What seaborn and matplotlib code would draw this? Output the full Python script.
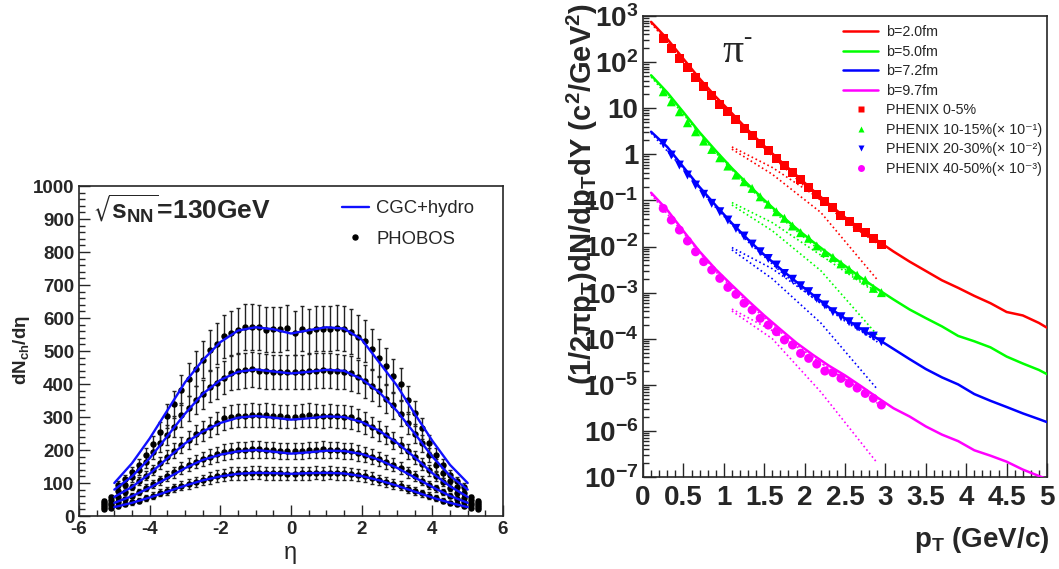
import matplotlib
matplotlib.use("Agg")
import numpy as np
import pandas as pd
import seaborn as sns
import matplotlib.pyplot as plt
from matplotlib.lines import Line2D
from matplotlib.ticker import MultipleLocator, FixedLocator, LogLocator, NullFormatter, FuncFormatter

# ---------------- left panel data: dNch/deta at 130 GeV ----------------
eta_data = [-5.3, -5.1, -4.9, -4.7, -4.5, -4.3, -4.1, -3.9, -3.7, -3.5, -3.3, -3.1, -2.9, -2.7,
            -2.5, -2.3, -2.1, -1.9, -1.7, -1.5, -1.3, -1.1, -0.9, -0.7, -0.5, -0.3, -0.1,
            0.1, 0.3, 0.5, 0.7, 0.9, 1.1, 1.3, 1.5, 1.7, 1.9, 2.1, 2.3, 2.5, 2.7, 2.9,
            3.1, 3.3, 3.5, 3.7, 3.9, 4.1, 4.3, 4.5, 4.7, 4.9, 5.1, 5.3]

phobos_c0 = [45, 58, 94, 112, 132, 155, 184, 217, 255, 302, 338, 381, 414, 446,
             474, 502, 522, 544, 556, 563, 573, 573, 572, 565, 566, 566, 570,
             555, 568, 560, 568, 567, 567, 570, 568, 559, 543, 531, 507, 480, 455, 424,
             400, 352, 311, 266, 220, 185, 155, 125, 105, 88, 58, 45]
phobos_c1 = [38, 48, 75, 95, 118, 140, 165, 195, 222, 245, 271, 306, 326, 351,
             369, 392, 404, 419, 434, 439, 442, 444, 440, 439, 437, 437, 437,
             437, 437, 439, 440, 442, 440, 439, 436, 432, 422, 408, 395, 378, 355, 335,
             310, 282, 250, 220, 185, 155, 130, 105, 88, 70, 48, 38]
phobos_c2 = [32, 40, 58, 72, 88, 105, 122, 140, 160, 180, 198, 216, 230, 248,
             258, 270, 282, 296, 301, 304, 304, 306, 305, 306, 304, 303, 301,
             301, 304, 306, 304, 303, 304, 303, 301, 299, 291, 282, 270, 258, 245, 228,
             215, 196, 178, 158, 138, 120, 103, 86, 70, 56, 40, 32]
phobos_c3 = [26, 32, 44, 52, 62, 73, 85, 97, 108, 120, 133, 146, 155, 165,
             172, 180, 187, 193, 198, 200, 200, 202, 202, 200, 200, 198, 198,
             198, 198, 200, 200, 202, 200, 200, 198, 196, 192, 186, 180, 172, 164, 155,
             145, 132, 120, 107, 95, 84, 72, 61, 52, 43, 32, 26]
phobos_c4 = [20, 24, 30, 35, 41, 47, 55, 62, 70, 76, 84, 92, 98, 104,
             109, 115, 120, 124, 128, 129, 130, 131, 131, 130, 129, 129, 128,
             128, 129, 130, 131, 130, 131, 130, 129, 127, 124, 120, 115, 109, 103, 97,
             91, 83, 76, 69, 62, 55, 47, 40, 35, 29, 24, 20]
phobos_rel_err = [0.12, 0.12, 0.115, 0.125, 0.15]

eta_line = [-5.0, -4.5, -4.0, -3.5, -3.0, -2.5, -2.0, -1.5, -1.0, -0.5, 0.0,
            0.5, 1.0, 1.5, 2.0, 2.5, 3.0, 3.5, 4.0, 4.5, 5.0]
cgc_c0 = [100, 160, 235, 320, 405, 472, 527, 562, 572, 566, 553, 563, 572, 568, 535, 465, 395, 310, 228, 155, 100]
cgc_c1 = [80, 120, 175, 242, 310, 370, 412, 437, 444, 438, 432, 437, 443, 440, 415, 375, 318, 250, 180, 122, 80]
cgc_c2 = [58, 88, 128, 175, 220, 256, 282, 298, 303, 298, 292, 296, 302, 300, 285, 258, 222, 178, 130, 90, 58]
cgc_c3 = [40, 60, 86, 115, 145, 170, 186, 196, 200, 195, 189, 193, 198, 197, 188, 170, 146, 117, 88, 61, 40]
cgc_c4 = [27, 40, 56, 74, 92, 108, 120, 128, 131, 130, 128, 130, 131, 129, 121, 108, 92, 74, 56, 40, 27]

# ---------------- right panel data: pi- pT spectra ----------------
pt_data = [0.25, 0.35, 0.45, 0.55, 0.65, 0.75, 0.85, 0.95, 1.05, 1.15, 1.25, 1.35, 1.45, 1.55,
           1.65, 1.75, 1.85, 1.95, 2.05, 2.15, 2.25, 2.35, 2.45, 2.55, 2.65, 2.75, 2.85, 2.95]
phenix_0_5 = [328, 199, 121, 77, 46, 29, 19, 12.3, 8.7, 5.7, 3.66, 2.55, 1.70, 1.19,
              0.82, 0.567, 0.40, 0.28, 0.195, 0.138, 0.094, 0.071, 0.048, 0.0345, 0.0261, 0.0198, 0.0146, 0.011]
phenix_10_15 = [22.8, 13.8, 8.4, 4.85, 3.09, 1.94, 1.28, 0.843, 0.557, 0.356, 0.255, 0.183, 0.12, 0.083,
                0.057, 0.041, 0.0279, 0.020, 0.0151, 0.0103, 7.4e-3, 5.8e-3, 4.2e-3, 3.2e-3, 2.4e-3, 1.88e-3, 1.24e-3, 1.0e-3]
phenix_20_30 = [1.73, 0.966, 0.586, 0.356, 0.216, 0.136, 0.0865, 0.0569, 0.0376, 0.0248, 0.0169, 0.0113, 7.7e-3, 5.5e-3,
                3.97e-3, 2.6e-3, 1.95e-3, 1.41e-3, 1.05e-3, 7.5e-4, 5.4e-4, 3.85e-4, 3.0e-4, 2.34e-4, 1.82e-4, 1.42e-4, 1.14e-4, 8.6e-5]
phenix_40_50 = [0.0673, 0.0376, 0.0228, 0.0132, 7.7e-3, 4.7e-3, 3.1e-3, 2.04e-3, 1.3e-3, 9.2e-4, 5.9e-4, 4.2e-4, 2.77e-4, 1.98e-4,
                1.42e-4, 9.4e-5, 7.3e-5, 4.8e-5, 3.75e-5, 2.82e-5, 1.99e-5, 1.83e-5, 1.38e-5, 1.08e-5, 8.5e-6, 6.5e-6, 5.1e-6, 3.65e-6]

pt_line = [0.1, 0.3, 0.5, 0.7, 0.9, 1.1, 1.3, 1.5, 1.7, 1.9, 2.1, 2.3, 2.5, 2.7, 2.9,
           3.1, 3.3, 3.5, 3.7, 3.9, 4.1, 4.3, 4.5, 4.7, 4.9, 5.0]
b20 = [750, 320, 118, 44, 17.8, 7.8, 3.35, 1.52, 0.72, 0.35, 0.168, 0.084, 0.043, 0.0235, 0.0135,
       7.8e-3, 4.7e-3, 2.95e-3, 1.85e-3, 1.27e-3, 8.5e-4, 5.9e-4, 3.8e-4, 3.2e-4, 2.2e-4, 1.73e-4]
b50 = [52, 22, 8.2, 3.0, 1.2, 0.5, 0.222, 0.102, 0.049, 0.0245, 0.0128, 6.9e-3, 3.8e-3, 2.1e-3, 1.2e-3,
       7.1e-4, 4.3e-4, 2.8e-4, 1.85e-4, 1.15e-4, 8.8e-5, 6.5e-5, 4.1e-5, 2.9e-5, 2.1e-5, 1.7e-5]
b72 = [3.1, 1.45, 0.53, 0.195, 0.078, 0.032, 0.0142, 6.6e-3, 3.3e-3, 1.7e-3, 9.0e-4, 4.8e-4, 2.75e-4, 1.62e-4, 1.0e-4,
       6.0e-5, 3.6e-5, 2.2e-5, 1.45e-5, 1.02e-5, 6.3e-6, 4.5e-6, 3.3e-6, 2.4e-6, 1.8e-6, 1.55e-6]
b97 = [0.147, 0.062, 0.0217, 7.8e-3, 3.2e-3, 1.45e-3, 6.7e-4, 3.2e-4, 1.6e-4, 8.1e-5, 4.5e-5, 2.6e-5, 1.6e-5, 9.3e-6, 5.3e-6,
       3.1e-6, 2.05e-6, 1.25e-6, 8.3e-7, 6.0e-7, 3.8e-7, 2.9e-7, 2.15e-7, 1.45e-7, 1.05e-7, 9.0e-8]

# dotted components
pt_hydro = [0.1, 0.5, 0.9, 1.3, 1.7, 2.1, 2.5, 2.9]
hydro_b20 = [700, 108, 16, 3.0, 0.62, 0.14, 0.036, 0.0115]
hydro_b50 = [48, 7.4, 1.08, 0.2, 0.043, 0.011, 3.2e-3, 1.0e-3]
hydro_b72 = [2.9, 0.48, 0.07, 0.0127, 2.9e-3, 7.8e-4, 2.4e-4, 8.7e-5]
hydro_b97 = [0.135, 0.0195, 2.85e-3, 5.9e-4, 1.4e-4, 3.9e-5, 1.35e-5, 4.5e-6]

pt_jet = [1.1, 1.6, 2.2, 2.9]
jetA_b20 = [1.45, 0.52, 0.105, 0.0125]
jetB_b20 = [1.3, 0.37, 0.055, 0.0019]
jetA_b50 = [0.09, 0.033, 6.5e-3, 9.5e-4]
jetB_b50 = [0.08, 0.022, 3.0e-3, 1.2e-4]
jetA_b72 = [9.5e-3, 3.3e-3, 6.0e-4, 8.5e-5]
jetB_b72 = [8.5e-3, 2.0e-3, 2.2e-4, 8e-6]
jetA_b97 = [4.4e-4, 1.5e-4, 3.0e-5, 4.0e-6]
jetB_b97 = [4.0e-4, 1.0e-4, 7.0e-6, 2.0e-7]

b_labels = ["b=2.0fm", "b=5.0fm", "b=7.2fm", "b=9.7fm"]
phenix_labels = ["PHENIX 0-5%", "PHENIX 10-15%(\u00d7 10\u207b\u00b9)",
                 "PHENIX 20-30%(\u00d7 10\u207b\u00b2)", "PHENIX 40-50%(\u00d7 10\u207b\u00b3)"]
colors = ["#ff0000", "#00ff00", "#0000ff", "#ff00ff"]
markers = ["s", "^", "v", "o"]

# ---------------- style ----------------
sns.set_style("ticks")
plt.rcParams['font.family'] = ['Liberation Sans', 'DejaVu Sans']
plt.rcParams['font.weight'] = 'bold'
plt.rcParams['mathtext.default'] = 'regular'
plt.rcParams['axes.unicode_minus'] = False
plt.rcParams['axes.linewidth'] = 1.2

fig = plt.figure(figsize=(10.59, 5.69), dpi=100)
axL = fig.add_axes([0.0746, 0.0931, 0.4004, 0.580])
axR = fig.add_axes([0.6072, 0.1617, 0.3815, 0.810])

# ---------------- left panel ----------------
cgc = [cgc_c0, cgc_c1, cgc_c2, cgc_c3, cgc_c4]
line_df = pd.DataFrame({
    "eta": eta_line * len(cgc),
    "dndeta": sum(cgc, []),
    "cls": np.repeat(np.arange(len(cgc)), len(eta_line)),
})
sns.lineplot(data=line_df, x="eta", y="dndeta", units="cls", estimator=None,
             color="#1010ff", lw=1.7, ax=axL, legend=False, zorder=3)

for vals, rel in zip([phobos_c0, phobos_c1, phobos_c2, phobos_c3, phobos_c4], phobos_rel_err):
    v = np.array(vals, dtype=float)
    axL.errorbar(eta_data, v, yerr=v * rel, fmt='o', ms=3.6, color='black',
                 ecolor='#222222', elinewidth=1.0, capsize=1.6, capthick=1.0, zorder=2)

axL.set_xlim(-6, 6)
axL.set_ylim(0, 1000)
axL.xaxis.set_major_locator(MultipleLocator(2))
axL.xaxis.set_minor_locator(MultipleLocator(0.5))
axL.yaxis.set_major_locator(MultipleLocator(100))
axL.yaxis.set_minor_locator(MultipleLocator(20))
axL.tick_params(which='both', direction='in', top=False, right=False, labelsize=13.5)
axL.tick_params(which='major', length=8, width=1)
axL.tick_params(which='minor', length=4, width=1)
axL.set_xlabel("")
axL.set_ylabel("")

fig.text(22 / 1059, 1 - 350 / 569, r'dN$_{ch}$/d$\eta$', rotation=90, fontsize=13.5,
         fontweight='bold', ha='center', va='center')
fig.text(290 / 1059, 1 - 555 / 569, r'$\eta$', fontsize=17, fontweight='normal',
         ha='center', va='center')
fig.text(93 / 1059, 1 - 220 / 569, r'$\sqrt{s_{NN}}$=130GeV', fontsize=19,
         fontweight='bold', ha='left', va='baseline')

hL = [Line2D([], [], color="#1010ff", lw=1.7),
      Line2D([], [], marker='o', ls='none', color='black', ms=3.6)]
axL.legend(hL, ["CGC+hydro", "PHOBOS"], prop={'weight': 'normal', 'size': 13.3},
           frameon=False, loc='upper left', bbox_to_anchor=(342 / 1059, 1 - 200 / 569),
           bbox_transform=fig.transFigure, borderpad=0, borderaxespad=0,
           handlelength=1.46, handletextpad=0.4, labelspacing=0.75)

# ---------------- right panel ----------------
axR.set_yscale('log')
solid = [b20, b50, b72, b97]
solid_df = pd.DataFrame({
    "pt": pt_line * 4,
    "val": sum(solid, []),
    "b": np.repeat(b_labels, len(pt_line)),
})
sns.lineplot(data=solid_df, x="pt", y="val", hue="b", palette=colors, estimator=None,
             lw=1.8, ax=axR, legend=False, zorder=3)

hydro = [hydro_b20, hydro_b50, hydro_b72, hydro_b97]
jetA = [jetA_b20, jetA_b50, jetA_b72, jetA_b97]
jetB = [jetB_b20, jetB_b50, jetB_b72, jetB_b97]
rows = []
for i, b in enumerate(b_labels):
    for x, y in zip(pt_hydro, hydro[i]):
        rows.append((x, y, b, f"h{i}"))
    for x, y in zip(pt_jet, jetA[i]):
        rows.append((x, y, b, f"a{i}"))
    for x, y in zip(pt_jet, jetB[i]):
        rows.append((x, y, b, f"c{i}"))
dot_df = pd.DataFrame(rows, columns=["pt", "val", "b", "curve"])
sns.lineplot(data=dot_df, x="pt", y="val", hue="b", palette=colors, units="curve",
             estimator=None, lw=1.2, linestyle=':', ax=axR, legend=False, zorder=2)

for vals, c, m in zip([phenix_0_5, phenix_10_15, phenix_20_30, phenix_40_50], colors, markers):
    sns.scatterplot(x=pt_data, y=vals, marker=m, color=c, s=42, edgecolor='none',
                    ax=axR, legend=False, zorder=4)

axR.set_xlim(0, 5)
axR.set_ylim(1e-7, 1e3)
axR.xaxis.set_major_locator(MultipleLocator(0.5))
axR.xaxis.set_minor_locator(MultipleLocator(0.1))
axR.xaxis.set_major_formatter(FuncFormatter(lambda v, p: f"{v:g}"))
axR.yaxis.set_major_locator(FixedLocator([10.0 ** k for k in range(-7, 4)]))


def log_label(v, p):
    k = int(round(np.log10(v)))
    if k == 0:
        return "1"
    if k == 1:
        return "10"
    return r"$10^{%d}$" % k


axR.yaxis.set_major_formatter(FuncFormatter(log_label))
axR.yaxis.set_minor_locator(LogLocator(base=10, subs=np.arange(2, 10), numticks=30))
axR.yaxis.set_minor_formatter(NullFormatter())
axR.tick_params(which='both', direction='in', top=False, right=False, labelsize=20)
axR.tick_params(axis='x', which='major', length=10, width=1, pad=6)
axR.tick_params(axis='x', which='minor', length=5, width=1)
axR.tick_params(axis='y', which='major', length=9, width=1)
axR.tick_params(axis='y', which='minor', length=4.5, width=1)
axR.set_xlabel("")
axR.set_ylabel("")

fig.text(582 / 1059, 1 - 3 / 569, r'(1/2$\pi$p$_{T}$)dN/dp$_{T}$dY (c$^{2}$/GeV$^{2}$)',
         rotation=90, fontsize=21, fontweight='bold', ha='center', va='top')
fig.text(1049 / 1059, 1 - 540 / 569, r'p$_{T}$ (GeV/c)', fontsize=20, fontweight='bold',
         ha='right', va='center')
fig.text(733 / 1059, 1 - 62 / 569, "\u03c0", fontsize=30, fontweight='normal',
         family=['Liberation Serif', 'DejaVu Serif'], ha='center', va='baseline')
fig.text(747 / 1059, 1 - 44 / 569, "-", fontsize=18, fontweight='normal',
         family=['Liberation Serif', 'DejaVu Serif'], ha='center', va='baseline')

hR = [Line2D([], [], color=c, lw=1.8) for c in colors]
hR += [Line2D([], [], marker=m, ls='none', color=c, ms=5, mec='none') for m, c in zip(markers, colors)]
axR.legend(hR, b_labels + phenix_labels, prop={'weight': 'normal', 'size': 10.3},
           frameon=False, loc='upper left', bbox_to_anchor=(843 / 1059, 1 - 25 / 569),
           bbox_transform=fig.transFigure, borderpad=0, borderaxespad=0,
           handlelength=2.45, handletextpad=0.55, labelspacing=0.39)

fig.savefig("out.png", dpi=100)
